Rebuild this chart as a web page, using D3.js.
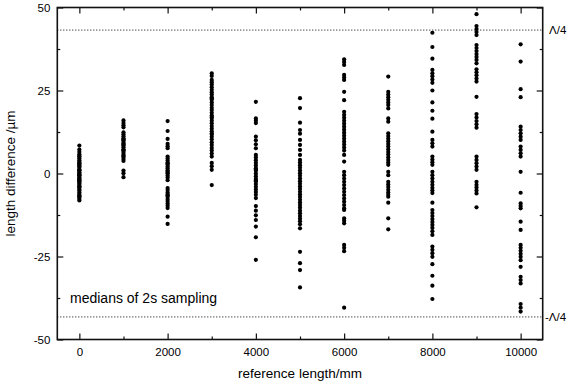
<!DOCTYPE html>
<html>
<head>
<meta charset="utf-8">
<script src="https://cdn.jsdelivr.net/npm/d3@7"></script>
<style>
  html, body { margin: 0; padding: 0; background: #fff; }
  svg { display: block; font-family: "Liberation Sans", Arial, sans-serif; }
</style>
</head>
<body>
<svg id="chart" width="578" height="385"></svg>
<script>
// Reference lengths (mm) at which the length differences were sampled
const lengths = [0, 1000, 2000, 3000, 4000, 5000, 6000, 7000, 8000, 9000, 10000];

// Median length differences (µm) per reference length
const diff0 = [8.4, 7.2, 6.5, 5.8, 5.1, 4.6, 4.0, 3.5, 3.0, 2.6, 2.1, 1.7, 1.2, 0.8, 0.4, 0.0, -0.3, -0.7, -1.1, -1.5, -1.9, -2.3, -2.7, -3.1, -3.5, -3.9, -4.3, -4.8, -5.2, -5.7, -6.2, -6.6, -7.1, -7.6, -8.1, 1.0, -0.5, 2.4, -2.0, 5.3, 3.2, -4.0, -6.9];
const diff1000 = [16.0, 15.2, 14.5, 13.9, 12.4, 11.8, 11.2, 10.6, 10.0, 9.5, 9.0, 8.4, 7.9, 7.3, 6.8, 6.2, 5.6, 5.0, 4.4, 3.8, 10.3, 8.7, 7.0, 5.3, 0.9, 0.1, -1.1];
const diff2000 = [15.8, 12.8, 10.4, 8.9, 8.2, 7.6, 5.1, 4.5, 3.9, 3.3, 2.7, 2.1, 1.6, 1.0, 0.5, 0.0, -0.6, -1.2, -2.0, -4.4, -5.0, -5.7, -6.3, -7.0, -7.7, -8.3, -9.0, -9.7, -10.4, -13.0, -15.2, 3.0, 0.2, -6.6];
const diff3000 = [30.2, 29.4, 28.2, 27.5, 26.8, 26.0, 25.2, 24.5, 23.8, 23.0, 22.2, 21.4, 20.6, 19.8, 19.1, 18.3, 17.5, 16.7, 15.9, 15.1, 14.3, 13.5, 12.7, 11.9, 11.1, 10.3, 9.4, 8.6, 7.7, 6.9, 6.0, 5.1, 3.2, 2.2, 1.1, -3.5, 22.6, 17.0, 12.0];
const diff4000 = [21.6, 16.6, 15.9, 15.2, 11.1, 10.0, 8.8, 7.6, 5.6, 4.8, 4.0, 3.2, 2.4, 1.6, 0.8, 0.0, -0.8, -1.6, -2.4, -3.2, -4.0, -4.8, -5.6, -6.4, -7.4, -9.8, -11.2, -12.6, -14.0, -16.0, -19.2, -26.0, 1.2, -2.0];
const diff5000 = [22.7, 19.7, 15.3, 13.1, 12.0, 10.1, 8.6, 7.1, 5.6, 4.1, 3.3, 2.5, 1.7, 0.9, 0.1, -0.7, -1.5, -2.3, -3.1, -3.9, -4.7, -5.5, -6.3, -7.1, -7.9, -8.7, -9.5, -10.3, -11.2, -12.0, -12.8, -13.6, -14.4, -15.3, -16.5, -23.6, -27.0, -29.1, -34.3];
const diff6000 = [34.4, 33.6, 32.7, 29.7, 28.9, 28.2, 24.6, 22.1, 18.6, 17.7, 16.8, 15.9, 15.0, 14.1, 13.2, 12.3, 11.4, 10.5, 9.6, 8.7, 7.8, 6.9, 5.6, 3.6, 0.5, -0.5, -1.5, -2.5, -3.5, -4.5, -5.5, -6.5, -7.5, -8.5, -9.5, -10.5, -11.0, -13.5, -14.2, -15.0, -21.5, -22.4, -23.4, -40.4];
const diff7000 = [29.2, 24.6, 23.8, 23.0, 22.2, 21.4, 20.6, 19.6, 16.6, 15.6, 12.1, 11.3, 10.5, 9.7, 8.9, 8.1, 7.3, 6.5, 5.7, 4.9, 4.1, 3.3, 2.6, 0.5, -0.5, -2.5, -3.3, -4.1, -4.9, -5.7, -6.4, -7.0, -8.8, -13.5, -16.8];
const diff8000 = [42.4, 38.1, 34.6, 31.2, 30.2, 29.3, 28.3, 27.3, 25.0, 21.4, 18.9, 16.5, 12.6, 10.1, 9.1, 8.1, 5.1, 4.2, 3.4, 2.6, 0.5, -0.5, -1.5, -2.5, -3.4, -4.3, -5.1, -5.9, -8.8, -11.0, -11.9, -12.8, -13.7, -14.6, -15.5, -16.4, -17.4, -18.5, -22.0, -23.0, -24.0, -25.1, -27.3, -30.8, -33.8, -37.8];
const diff9000 = [48.0, 44.4, 43.5, 42.6, 41.7, 38.7, 37.8, 36.9, 36.0, 35.1, 34.2, 33.2, 31.4, 30.5, 29.6, 28.6, 27.7, 23.1, 17.9, 16.9, 15.8, 14.8, 13.8, 5.1, 4.1, 3.1, 2.1, 1.1, -2.5, -3.4, -4.2, -5.1, -6.0, -10.2];
const diff10000 = [38.9, 33.7, 25.4, 23.0, 14.1, 13.1, 12.1, 11.1, 10.1, 8.1, 7.1, 6.1, 5.1, 0.5, -5.8, -9.0, -9.8, -10.5, -14.5, -17.0, -21.5, -22.4, -23.3, -24.2, -25.1, -26.1, -28.1, -31.1, -32.1, -33.1, -39.3, -40.4, -41.6];

const diffs = [diff0, diff1000, diff2000, diff3000, diff4000, diff5000, diff6000, diff7000, diff8000, diff9000, diff10000];

// Quarter-wavelength limits (µm)
const quarterWave = 43.2;

// Axis ticks
const xMajorTicks = [0, 2000, 4000, 6000, 8000, 10000];
const xMinorTicks = [1000, 3000, 5000, 7000, 9000];
const yMajorTicks = [-50, -25, 0, 25, 50];
const yMinorTicks = [-37.5, -12.5, 12.5, 37.5];

const points = [];
lengths.forEach((len, i) => diffs[i].forEach(v => points.push({ len, v })));

const svg = d3.select("#chart");
const plotLeft = 57.3, plotRight = 542.7, plotTop = 7.5, plotBottom = 339.5;

const x = d3.scaleLinear().domain([-500, 10500]).range([plotLeft, plotRight]);
const y = d3.scaleLinear().domain([-50, 50]).range([plotBottom, plotTop]);

const ink = "#111";

// Quarter-wave dotted reference lines
svg.selectAll("line.limit")
  .data([quarterWave, -quarterWave])
  .join("line")
  .attr("class", "limit")
  .attr("x1", plotLeft).attr("x2", plotRight)
  .attr("y1", d => y(d)).attr("y2", d => y(d))
  .attr("stroke", "#000")
  .attr("stroke-width", 1)
  .attr("stroke-dasharray", "1,2");

// Data points
svg.append("g")
  .selectAll("circle")
  .data(points)
  .join("circle")
  .attr("cx", d => x(d.len))
  .attr("cy", d => y(d.v))
  .attr("r", 2.1)
  .attr("fill", "#000");

// Axes with inward ticks on all four sides
function styleAxis(g) {
  g.select(".domain").remove();
  g.selectAll(".tick line").attr("stroke", ink).attr("stroke-width", 1.2);
  g.selectAll(".tick text").attr("fill", "#000").attr("font-size", 11.5)
    .attr("font-family", "'Liberation Sans', Arial, sans-serif");
}

svg.append("g").attr("transform", `translate(0,${plotBottom})`)
  .call(d3.axisBottom(x).tickValues(xMajorTicks).tickSize(-6).tickPadding(8).tickFormat(d => String(d)))
  .call(styleAxis);
svg.append("g").attr("transform", `translate(0,${plotBottom})`)
  .call(d3.axisBottom(x).tickValues(xMinorTicks).tickSize(-3).tickFormat(""))
  .call(styleAxis);
svg.append("g").attr("transform", `translate(0,${plotTop})`)
  .call(d3.axisTop(x).tickValues(xMajorTicks).tickSize(-6).tickFormat(""))
  .call(styleAxis);
svg.append("g").attr("transform", `translate(0,${plotTop})`)
  .call(d3.axisTop(x).tickValues(xMinorTicks).tickSize(-3).tickFormat(""))
  .call(styleAxis);

svg.append("g").attr("transform", `translate(${plotLeft},0)`)
  .call(d3.axisLeft(y).tickValues(yMajorTicks).tickSize(-6).tickPadding(7).tickFormat(d => String(d)))
  .call(styleAxis);
svg.append("g").attr("transform", `translate(${plotLeft},0)`)
  .call(d3.axisLeft(y).tickValues(yMinorTicks).tickSize(-3).tickFormat(""))
  .call(styleAxis);
svg.append("g").attr("transform", `translate(${plotRight},0)`)
  .call(d3.axisRight(y).tickValues(yMajorTicks).tickSize(-6).tickFormat(""))
  .call(styleAxis);
svg.append("g").attr("transform", `translate(${plotRight},0)`)
  .call(d3.axisRight(y).tickValues(yMinorTicks).tickSize(-3).tickFormat(""))
  .call(styleAxis);

// Plot frame
svg.append("rect")
  .attr("x", plotLeft).attr("y", plotTop)
  .attr("width", plotRight - plotLeft).attr("height", plotBottom - plotTop)
  .attr("fill", "none").attr("stroke", ink).attr("stroke-width", 1.6);

// Axis titles
svg.append("text")
  .attr("x", (plotLeft + plotRight) / 2).attr("y", 377.5)
  .attr("text-anchor", "middle").attr("font-size", 13.5)
  .text("reference length/mm");

svg.append("text")
  .attr("transform", `translate(15,${(plotTop + plotBottom) / 2}) rotate(-90)`)
  .attr("text-anchor", "middle").attr("font-size", 13.5)
  .text("length difference /µm");

// Annotations
svg.append("text")
  .attr("x", 70).attr("y", 303)
  .attr("font-size", 14)
  .text("medians of 2s sampling");

svg.append("text")
  .attr("x", 549).attr("y", y(quarterWave) + 4)
  .attr("font-size", 11.5)
  .text("Λ/4");

svg.append("text")
  .attr("x", 545).attr("y", y(-quarterWave) + 4)
  .attr("font-size", 11.5)
  .text("-Λ/4");
</script>
</body>
</html>
